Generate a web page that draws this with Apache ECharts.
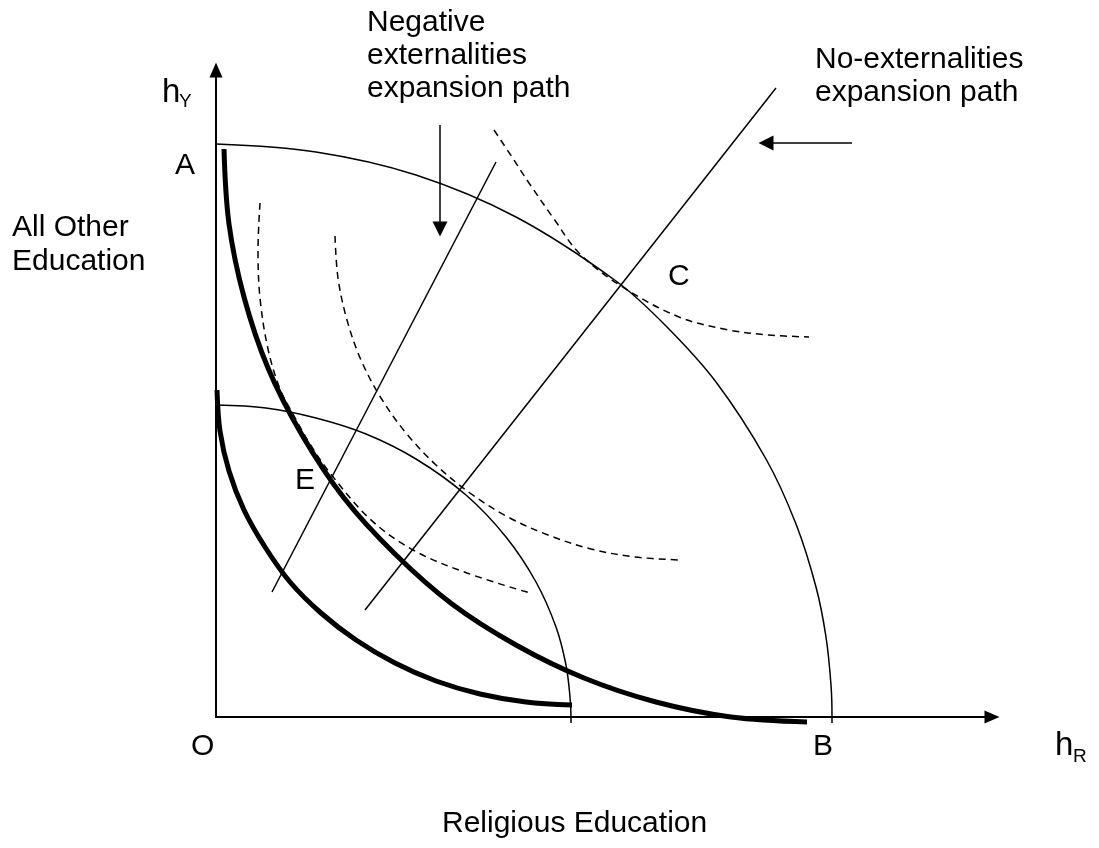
<!DOCTYPE html>
<html>
<head>
<meta charset="utf-8">
<script src="https://cdn.jsdelivr.net/npm/echarts@6/dist/echarts.min.js"></script>
<style>html,body{margin:0;padding:0;background:#fff}#c{width:1099px;height:848px}</style>
</head>
<body>
<div id="c"></div>
<script>
// Data units: h_R (x) and h_Y (y), measured from origin O
const bigFrontier = [[0,573],[100,565],[200,542],[300,500],[400,436],[450,391],[500,335],[550,258],[580,193],[600,130],[610,80],[615,32],[616,0],[616,-6]];
const smallFrontier = [[0,312],[50,309],[100,299],[150,283],[200,258],[250,222],[290,180],[320,135],[340,90],[350,52],[354,20],[355,0],[355,-6]];
const bigIndifference = [[8,568],[13,493],[28,420],[52,349],[86,282],[128,219],[179,163],[236,113],[300,72],[368,39],[440,15],[515,0],[591,-5]];
const smallIndifference = [[1,327],[4,286],[13,246],[28,207],[49,170],[74,135],[105,104],[140,77],[179,54],[220,36],[264,23],[310,15],[356,12]];
const dashHigh = [[278,587],[296,560],[313,534],[338,498],[363,464],[405,431],[463,400],[513,387],[553,382],[593,380]];
const dashMid = [[119,481],[122,439],[131,397],[145,357],[165,319],[190,284],[220,252],[254,224],[292,200],[332,182],[375,168],[419,160],[464,157]];
const dashLow = [[44,514],[42,467],[44,419],[52,368],[64,328],[77,303],[94,273],[114,244],[154,198],[197,167],[251,144],[314,124]];
const negPath = [[56,125],[280,555]];
const noExtPath = [[149,107],[560,629]];
const negArrow = [[224,592],[224,488]];
const noExtArrow = [[636,574],[550,574]];
const xMax = 776, yMax = 647;

const FONT = '"Liberation Sans", Arial, sans-serif';
const chart = echarts.init(document.getElementById('c'));
function curve(data, width, dashed) {
  return {
    type: 'line', data: data, smooth: 0.35, symbol: 'none', showSymbol: false,
    clip: false, silent: true, animation: false,
    lineStyle: {color: '#000', width: width, type: dashed ? [7, 5] : 'solid', cap: 'butt'}
  };
}
function arrow(coords) {
  return {
    type: 'lines', coordinateSystem: 'cartesian2d', silent: true, animation: false,
    symbol: ['none', 'triangle'], symbolSize: [14, 15],
    lineStyle: {color: '#000', width: 1.5, opacity: 1},
    itemStyle: {color: '#000'},
    data: [{coords: coords}]
  };
}
function txt(x, y, text, size, va, lh) {
  const style = {text: text, fontSize: size, fontFamily: FONT, fill: '#000', align: 'left', verticalAlign: va || 'middle'};
  if (lh) style.lineHeight = lh;
  return {type: 'text', x: x, y: y, silent: true, style: style};
}
function axisCommon(max) {
  return {
    type: 'value', min: 0, max: max,
    axisLine: {show: true, onZero: false, symbol: ['none', 'triangle'], symbolSize: [13, 15],
      lineStyle: {color: '#000', width: 2}},
    axisTick: {show: false}, axisLabel: {show: false}, splitLine: {show: false}
  };
}
chart.setOption({
  animation: false,
  backgroundColor: '#fff',
  grid: {left: 216, right: 107, top: 70, bottom: 131},
  xAxis: axisCommon(xMax),
  yAxis: axisCommon(yMax),
  series: [
    curve(bigFrontier, 1.5), curve(smallFrontier, 1.5),
    curve(bigIndifference, 5), curve(smallIndifference, 5),
    curve(dashHigh, 1.5, true), curve(dashMid, 1.5, true), curve(dashLow, 1.5, true),
    curve(negPath, 1.5), curve(noExtPath, 1.5),
    arrow(negArrow), arrow(noExtArrow)
  ],
  graphic: [
    txt(367, 6.5, 'Negative\nexternalities\nexpansion path', 30, 'top', 33),
    txt(815, 43.5, 'No-externalities\nexpansion path', 30, 'top', 33),
    txt(12, 211, 'All Other\nEducation', 30, 'top', 34),
    txt(442, 824, 'Religious Education', 30),
    txt(175, 166, 'A', 30),
    txt(191, 747, 'O', 30),
    txt(813, 747, 'B', 30),
    txt(668, 277, 'C', 30),
    txt(295, 481, 'E', 30),
    txt(162, 93, 'h', 33),
    txt(179, 102, 'Y', 19),
    txt(1055, 746, 'h', 33),
    txt(1073, 757, 'R', 19)
  ]
});
</script>
</body>
</html>
